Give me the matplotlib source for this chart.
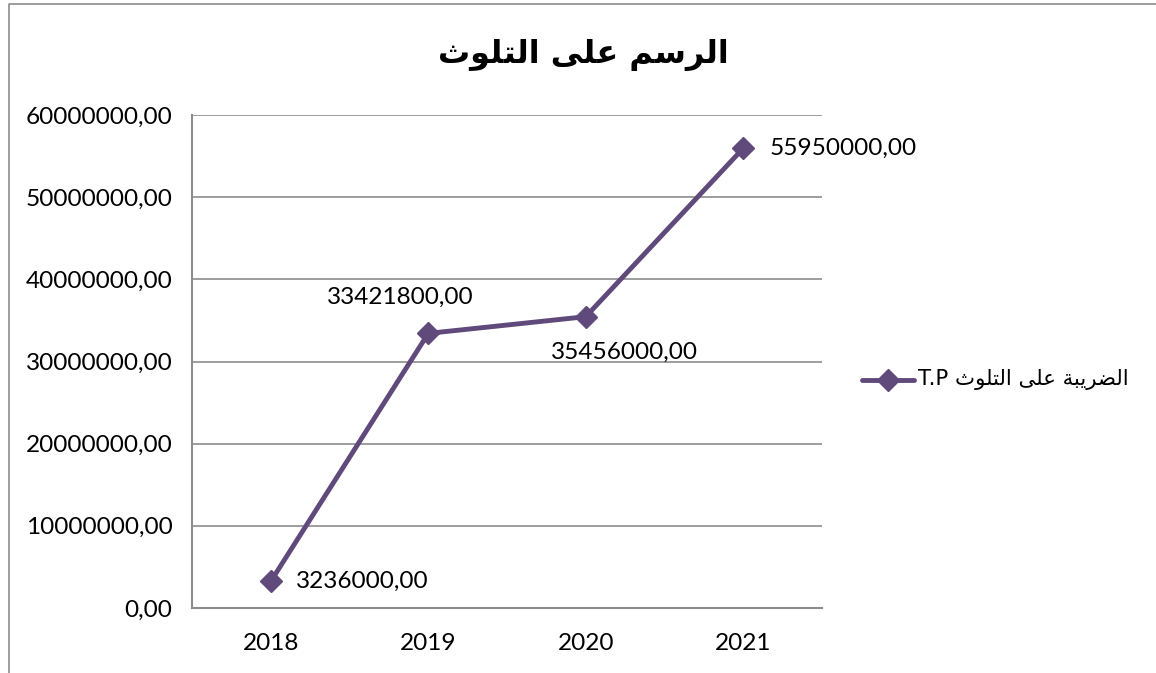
import matplotlib
matplotlib.use("Agg")
import matplotlib.pyplot as plt
from matplotlib.lines import Line2D

years = ["2018", "2019", "2020", "2021"]
values = [3236000, 33421800, 35456000, 55950000]
value_labels = ["3236000,00", "33421800,00", "35456000,00", "55950000,00"]
y_ticks = [0, 10000000, 20000000, 30000000, 40000000, 50000000, 60000000]
y_tick_labels = ["0,00", "10000000,00", "20000000,00", "30000000,00",
                 "40000000,00", "50000000,00", "60000000,00"]
# Arabic text written with presentation forms in display order (matplotlib has no shaping)
title_text = "\uFE99\uFEEE\uFEE0\uFE98\uFEDF\uFE8D \uFEF0\uFEE0\uFECB \uFEE2\uFEB3\uFEAE\uFEDF\uFE8D"  # الرسم على التلوث
legend_text = "T.P \uFE99\uFEEE\uFEE0\uFE98\uFEDF\uFE8D \uFEF0\uFEE0\uFECB \uFE94\uFE92\uFEF3\uFEAE\uFEC0\uFEDF\uFE8D"  # الضريبة على التلوث T.P

W, H = 1156, 673
fig = plt.figure(figsize=(W / 100, H / 100), dpi=100)
fig.patch.set_facecolor("white")

ax = fig.add_axes([192 / W, 1 - 608 / H, (822 - 192) / W, (608 - 115) / H])
num_font = ["Lato", "DejaVu Sans"]
fs = 17.6
line_color = "#604A7B"
grid_color = "#8C8C8C"

x = list(range(len(years)))
ax.plot(x, values, color=line_color, lw=3.5, marker="D", markersize=11.5,
        markerfacecolor=line_color, markeredgecolor=line_color, solid_capstyle="round")
ax.set_xlim(-0.5, len(years) - 0.5)
ax.set_ylim(0, 60000000)
ax.set_yticks(y_ticks)
ax.set_yticklabels(y_tick_labels, fontfamily=num_font, fontsize=fs)
ax.set_xticks(x)
ax.set_xticklabels(years, fontfamily=num_font, fontsize=fs)
ax.tick_params(axis="both", length=0)
ax.tick_params(axis="y", pad=14)
ax.tick_params(axis="x", pad=18)
ax.yaxis.grid(True, color=grid_color, lw=1.2)
ax.set_axisbelow(True)
for s in ["top", "right"]:
    ax.spines[s].set_visible(False)
for s in ["left", "bottom"]:
    ax.spines[s].set_color(grid_color)
    ax.spines[s].set_linewidth(1.5)

offsets = [(18, 0, "left"), (-20, 26, "center"), (28, -26, "center"), (19, 0, "left")]
for xi, v, lab, (dx, dy, ha) in zip(x, values, value_labels, offsets):
    ax.annotate(lab, (xi, v), xytext=(dx, dy), textcoords="offset points",
                ha=ha, va="center", fontfamily=num_font, fontsize=fs)

fig.text(583 / W, 1 - 55 / H, title_text, ha="center", va="center",
         fontsize=23, fontweight="bold", family=["DejaVu Sans"])

# legend
fig.add_artist(Line2D([862 / W, 914 / W], [1 - 380 / H] * 2, color=line_color, lw=3.5,
                      solid_capstyle="round", transform=fig.transFigure))
fig.add_artist(Line2D([888 / W], [1 - 380 / H], color=line_color, marker="D", markersize=11.5,
                      transform=fig.transFigure))
fig.text(918 / W, 1 - 380 / H, legend_text, ha="left", va="center", fontsize=15.3,
         family=["DejaVu Sans"])

# outer chart border (top and left)
fig.add_artist(Line2D([8.5 / W, 8.5 / W, 1], [0, 1 - 3.5 / H, 1 - 3.5 / H], color="#8C8C8C",
                      lw=1.2, transform=fig.transFigure))

fig.savefig("out.png", dpi=100, facecolor="white")
